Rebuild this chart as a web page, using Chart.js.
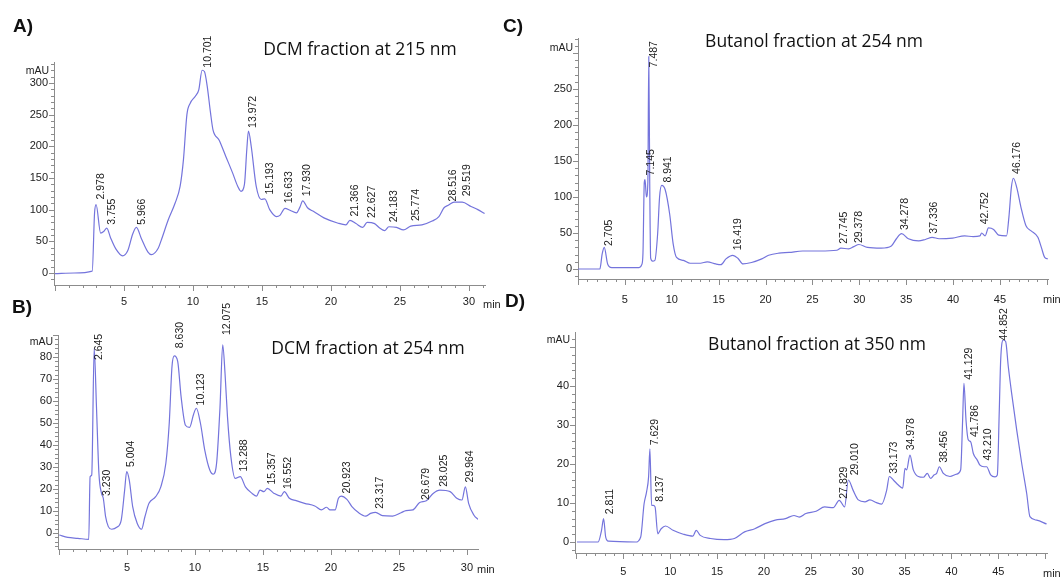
<!DOCTYPE html>
<html>
<head>
<meta charset="utf-8">
<script src="https://cdn.jsdelivr.net/npm/chart.js@4.4.0/dist/chart.umd.min.js"></script>
<style>
  html, body { margin: 0; padding: 0; background: #fff; }
  #wrap { position: relative; width: 1063px; height: 578px; overflow: hidden; }
  canvas { position: absolute; left: 0; top: 0; }
  .title { position: absolute; font: 17.5px "Open Sans", sans-serif; color: #111; transform: translate(-50%, -50%); white-space: nowrap; }
  .tag { position: absolute; font: bold 19px "Liberation Sans", Arial, sans-serif; color: #111; transform: translateY(-50%); }
</style>
</head>
<body>
<div id="wrap">
  <canvas id="chartA" width="1063" height="578"></canvas>
  <canvas id="chartB" width="1063" height="578"></canvas>
  <canvas id="chartC" width="1063" height="578"></canvas>
  <canvas id="chartD" width="1063" height="578"></canvas>
  <div class="tag" style="left:13px;top:26px">A)</div>
  <div class="tag" style="left:12px;top:307px">B)</div>
  <div class="tag" style="left:503px;top:26px">C)</div>
  <div class="tag" style="left:505px;top:301px">D)</div>
  <div class="title" style="left:360px;top:48px">DCM fraction at 215 nm</div>
  <div class="title" style="left:368px;top:347px">DCM fraction at 254 nm</div>
  <div class="title" style="left:814px;top:40px">Butanol fraction at 254 nm</div>
  <div class="title" style="left:817px;top:343px">Butanol fraction at 350 nm</div>
</div>
<script>
// A) DCM fraction at 215 nm
const timeA = [0, 1.4, 2.7, 2.87, 2.98, 3.31, 3.55, 3.75, 4.04, 4.41, 4.9, 5.27, 5.64, 5.9, 6.25, 6.74, 6.99, 7.48, 7.72, 8.21, 8.7, 9.07, 9.31, 9.56, 9.8, 10.17, 10.42, 10.66, 10.83, 11.03, 11.27, 11.45, 11.89, 12.38, 12.87, 13.24, 13.48, 13.73, 13.9, 14.02, 14.22, 14.58, 14.95, 15.2, 15.56, 16.05, 16.3, 16.67, 17.03, 17.5, 17.75, 17.95, 18.3, 18.75, 19.49, 20.47, 21.08, 21.37, 21.81, 22.3, 22.62, 23.16, 23.53, 23.9, 24.19, 24.75, 25.25, 25.78, 26.59, 27.33, 27.82, 28.19, 28.5, 28.92, 29.51, 30.15, 30.64, 31.13];
const valueA = [-1, 0, 3, 95, 108, 63, 66, 71, 55, 38, 27, 35, 62, 72, 55, 33, 29, 39, 53, 84, 110, 137, 179, 250, 268, 279, 289, 320, 318, 295, 253, 226, 210, 184, 158, 137, 129, 140, 195, 224, 200, 137, 116, 117, 100, 89, 91, 102, 99, 95, 104, 114, 103, 97, 87, 79, 76, 83, 78, 72, 80, 78, 71, 67, 73, 72, 68, 74, 76, 82, 89, 103, 107, 112, 112, 105, 100, 94];
const peakTimeA = [2.978, 3.755, 5.966, 10.701, 13.972, 15.193, 16.633, 17.930, 21.366, 22.627, 24.183, 25.774, 28.516, 29.519];
const peakHeightA = [116, 76, 76, 324, 229, 124, 110, 121, 89, 87, 80, 82, 113, 121];

// B) DCM fraction at 254 nm
const timeB = [0.02, 0.65, 1.39, 2.19, 2.29, 2.41, 2.59, 2.76, 2.94, 3.13, 3.26, 3.43, 3.63, 3.88, 4.25, 4.58, 4.83, 4.98, 5.17, 5.42, 5.75, 6.07, 6.32, 6.62, 7.11, 7.49, 7.86, 8.11, 8.31, 8.48, 8.73, 8.98, 9.3, 9.6, 9.9, 10.1, 10.4, 10.72, 11.09, 11.34, 11.59, 11.84, 12.04, 12.21, 12.39, 12.64, 12.96, 13.33, 13.71, 14.2, 14.53, 14.78, 15.07, 15.32, 15.82, 16.32, 16.57, 16.94, 17.44, 18.06, 18.81, 19.3, 19.68, 19.93, 20.3, 20.55, 20.75, 21.17, 21.54, 22.04, 22.54, 22.91, 23.28, 23.78, 24.53, 25.15, 25.52, 26.02, 26.52, 27.01, 27.51, 28.01, 28.76, 29.25, 29.63, 29.88, 30.12, 30.5, 30.87];
const valueB = [-0.9, -2, -2.4, -2.9, 25.6, 26.4, 84, 57, 27, 18, 15.8, 7.4, 2.9, 1.7, 2.6, 5.9, 19.5, 27.9, 24, 12, 4.4, 1.7, 7.4, 13.5, 16.5, 21, 31.7, 50, 75.6, 80.5, 78, 62, 49, 48, 54, 56.7, 50, 37.7, 28.6, 26.7, 31.7, 57, 85.5, 72.6, 52.9, 34.7, 24.8, 25.6, 21, 18, 16.8, 19.5, 18.8, 20.3, 18, 16.8, 18.8, 15.8, 14.7, 13.5, 12.3, 10.5, 11.7, 10.5, 10.5, 15.8, 16.8, 15.3, 12, 9.2, 7.7, 8.9, 9.4, 7.9, 7.7, 9.2, 10.2, 10.5, 13.9, 14.7, 18, 19.5, 18.8, 15.8, 15, 21, 13.5, 8.2, 5.9];
const peakTimeB = [2.645, 3.230, 5.004, 8.630, 10.123, 12.075, 13.288, 15.357, 16.552, 20.923, 23.317, 26.679, 28.025, 29.964];
const peakHeightB = [78.6, 16.8, 30, 84, 58, 90, 28, 22, 20, 18, 11, 15, 21, 23];

// C) Butanol fraction at 254 nm
const timeC = [0, 2.33, 2.58, 2.8, 3.16, 3.6, 6.51, 6.8, 6.93, 7.07, 7.15, 7.3, 7.45, 7.55, 7.65, 7.75, 7.95, 8.2, 8.5, 8.7, 8.93, 9.3, 9.78, 10.15, 10.51, 11.24, 11.96, 13.05, 13.78, 14.69, 15.24, 15.78, 16.51, 17.05, 17.6, 18.51, 19.6, 20.33, 21.42, 22.51, 23.96, 25.78, 27.6, 28.04, 28.87, 29.42, 29.96, 30.87, 32.33, 33.42, 33.96, 34.51, 35.24, 36.33, 37.05, 37.78, 38.51, 39.96, 41.24, 42.15, 42.87, 43.05, 43.42, 43.78, 44.33, 44.87, 45.71, 45.96, 46.22, 46.44, 46.8, 47.24, 47.78, 48.33, 49.05, 49.42, 49.78, 50.1];
const valueC = [0, 0, 21, 30, 7, 2, 2, 6, 22, 120, 124, 100, 120, 295, 120, 15, 11, 12, 50, 100, 116, 110, 76, 35, 16, 12, 8, 8, 10, 7, 6, 14, 19, 15, 7, 9, 14, 19, 22, 23, 25, 25, 26, 29, 28, 31, 34, 30, 29, 32, 42, 49, 42, 39, 41, 44, 42, 43, 46, 45, 46, 50, 46, 57, 55, 47, 46, 72, 113, 126, 113, 86, 60, 53, 44, 30, 16, 14];
const peakTimeC = [2.705, 7.145, 7.487, 8.941, 16.419, 27.745, 29.378, 34.278, 37.336, 42.752, 46.176];
const peakHeightC = [32, 130, 280, 120, 26, 35, 36, 54, 49, 62, 132];

// D) Butanol fraction at 350 nm
const timeD = [0.05, 2.31, 2.67, 2.89, 3.11, 3.4, 6.3, 6.85, 7.21, 7.47, 7.69, 7.83, 8.01, 8.19, 8.38, 8.67, 9.03, 9.5, 10.3, 11.39, 12.41, 12.77, 13.2, 14.3, 15.75, 16.84, 17.93, 19.02, 20.11, 21.2, 22.29, 23.2, 23.75, 24.47, 25.56, 26.47, 27.38, 28.03, 28.6, 29.0, 29.5, 30.06, 30.77, 31.3, 32.0, 32.55, 33.09, 33.37, 33.8, 34.33, 34.8, 35.04, 35.22, 35.57, 35.93, 36.46, 37.0, 37.42, 37.78, 38.13, 38.42, 38.7, 39.13, 39.84, 40.55, 40.98, 41.19, 41.33, 41.55, 41.79, 42.05, 42.33, 42.75, 43.04, 43.47, 43.75, 44.18, 44.64, 44.89, 45.1, 45.25, 45.53, 45.78, 46.06, 46.42, 46.96, 47.49, 48.02, 48.37, 49.09, 50.15];
const valueD = [0, 0, 3, 6, 1.3, 0.2, 0, 1.3, 9.8, 12.8, 16.7, 23.9, 9.4, 9.4, 9, 2.1, 3.4, 4.1, 3, 2, 1.5, 3, 1.7, 0.9, 0.6, 0.9, 2.6, 3.4, 4.7, 5.6, 6, 6.8, 6.4, 7.3, 7.9, 9, 8.8, 10.7, 9, 15.9, 13.3, 10.8, 10.3, 10.8, 10.1, 9.7, 13.3, 16.8, 15.9, 14.6, 13.8, 18.9, 18.5, 22.3, 18.5, 16.8, 16.6, 17.6, 16.3, 17.2, 17.6, 19.3, 17.6, 16.8, 17.4, 18.5, 31.3, 40.7, 31.3, 26.2, 25.7, 22.7, 21, 19.7, 19.3, 19.3, 17.2, 16.7, 17.2, 33.8, 46.7, 51.8, 51.4, 45, 38.1, 28.7, 20.2, 12.5, 6.5, 5.6, 4.6];
const peakTimeD = [2.811, 7.629, 8.137, 27.829, 29.010, 33.173, 34.978, 38.456, 41.129, 41.786, 43.210, 44.852];
const peakHeightD = [7.1, 24.8, 10.3, 11.1, 17.1, 17.5, 23.5, 20.3, 41.6, 26.9, 20.9, 51.7];

// tick labels
const xTicksShort = [5, 10, 15, 20, 25, 30];
const xTicksLong = [5, 10, 15, 20, 25, 30, 35, 40, 45];
const yTicksA = [0, 50, 100, 150, 200, 250, 300];
const yTicksB = [0, 10, 20, 30, 40, 50, 60, 70, 80];
const yTicksC = [0, 50, 100, 150, 200, 250];
const yTicksD = [0, 10, 20, 30, 40];

const TRACE = '#7474dc';
const AXIS = '#8c8c8c';
const TEXT = '#222';
const FONT = '"Liberation Sans", Arial, sans-serif';
const YW = 40, XH = 25;

const chromPlugin = {
  id: 'chrom',
  afterDraw(chart) {
    const p = chart.options.plugins.chrom;
    const { ctx, chartArea: a } = chart;
    const x = chart.scales.x, y = chart.scales.y;
    ctx.save();
    // minor / major tick marks
    ctx.strokeStyle = AXIS;
    ctx.lineWidth = 1;
    ctx.beginPath();
    for (let t = Math.ceil(x.min); t <= x.max; t++) {
      const px = Math.round(x.getPixelForValue(t)) + 0.5;
      const len = t % 5 === 0 ? 6 : 3;
      ctx.moveTo(px, a.bottom);
      ctx.lineTo(px, a.bottom + len);
    }
    for (let v = Math.ceil(y.min / p.yMinor) * p.yMinor; v <= y.max; v += p.yMinor) {
      const py = Math.round(y.getPixelForValue(v)) + 0.5;
      const len = Math.abs(v % p.yMajor) < 1e-6 ? 5 : 3;
      ctx.moveTo(a.left, py);
      ctx.lineTo(a.left - len, py);
    }
    ctx.stroke();

    ctx.fillStyle = TEXT;
    ctx.font = '10.5px ' + FONT;
    ctx.textBaseline = 'middle';
    ctx.textAlign = 'right';
    ctx.fillText('mAU', a.left - 5, a.top + p.mauDy);
    ctx.textAlign = 'left';
    ctx.font = '11px ' + FONT;
    ctx.fillText('min', a.right + p.minDx, a.bottom + p.minDy);

    // peak retention-time labels
    ctx.font = '10.5px ' + FONT;
    ctx.fillStyle = '#1a1a1a';
    p.times.forEach((t, i) => {
      const px = x.getPixelForValue(t) + p.labelDx;
      const py = y.getPixelForValue(p.heights[i]);
      ctx.save();
      ctx.translate(px, py);
      ctx.rotate(-Math.PI / 2);
      ctx.textAlign = 'left';
      ctx.textBaseline = 'middle';
      ctx.fillText(t.toFixed(3), 0, 0);
      ctx.restore();
    });
    ctx.restore();
  }
};

function drawPanel(id, cfg) {
  const pts = cfg.time.map((t, i) => ({ x: t, y: cfg.value[i] }));
  const [left, top, right, bottom] = cfg.box;
  return new Chart(document.getElementById(id), {
    type: 'line',
    data: {
      datasets: [{
        data: pts,
        borderColor: TRACE,
        borderWidth: 1.2,
        pointRadius: 0,
        fill: false,
        cubicInterpolationMode: 'monotone'
      }]
    },
    options: {
      responsive: false,
      animation: false,
      events: [],
      layout: { padding: { left: left - YW, top: top, right: 1063 - right, bottom: 578 - bottom - XH } },
      plugins: {
        legend: { display: false },
        tooltip: { enabled: false },
        chrom: {
          times: cfg.peakTime, heights: cfg.peakHeight, labelDx: cfg.labelDx,
          yMinor: cfg.yMinor, yMajor: cfg.yMajor,
          mauDy: cfg.mauDy, minDx: cfg.minDx, minDy: cfg.minDy
        }
      },
      scales: {
        x: {
          type: 'linear',
          min: cfg.xRange[0], max: cfg.xRange[1],
          afterFit: s => { s.height = XH; },
          afterBuildTicks: s => { s.ticks = cfg.xTicks.map(v => ({ value: v })); },
          grid: { drawOnChartArea: false, drawTicks: true, tickLength: cfg.xGap, color: 'rgba(0,0,0,0)' },
          border: { display: true, color: AXIS, width: 1 },
          ticks: { padding: 2, color: TEXT, font: { family: FONT, size: 11 }, maxRotation: 0, autoSkip: false, callback: v => String(v) }
        },
        y: {
          type: 'linear',
          min: cfg.yRange[0], max: cfg.yRange[1],
          afterFit: s => { s.width = YW; },
          afterBuildTicks: s => { s.ticks = cfg.yTicks.map(v => ({ value: v })); },
          grid: { drawOnChartArea: false, drawTicks: true, tickLength: 4, color: 'rgba(0,0,0,0)' },
          border: { display: true, color: AXIS, width: 1 },
          ticks: { padding: 2, color: TEXT, font: { family: FONT, size: 11 }, autoSkip: false, callback: v => String(v) }
        }
      }
    },
    plugins: [chromPlugin]
  });
}

drawPanel('chartA', {
  time: timeA, value: valueA, peakTime: peakTimeA, peakHeight: peakHeightA,
  box: [54, 62, 485, 285], xRange: [-0.07, 31.16], yRange: [-18.9, 333],
  xTicks: xTicksShort, yTicks: yTicksA, yMinor: 10, yMajor: 50,
  labelDx: 5, xGap: 8, mauDy: 9, minDx: -2, minDy: 20
});
drawPanel('chartB', {
  time: timeB, value: valueB, peakTime: peakTimeB, peakHeight: peakHeightB,
  box: [58, 335, 478, 549], xRange: [-0.07, 30.81], yRange: [-7.27, 90],
  xTicks: xTicksShort, yTicks: yTicksB, yMinor: 2, yMajor: 10,
  labelDx: 4, xGap: 10, mauDy: 7, minDx: -1, minDy: 21
});
drawPanel('chartC', {
  time: timeC, value: valueC, peakTime: peakTimeC, peakHeight: peakHeightC,
  box: [578, 38, 1048, 279], xRange: [0, 50.13], yRange: [-13.9, 320.8],
  xTicks: xTicksLong, yTicks: yTicksC, yMinor: 10, yMajor: 50,
  labelDx: 6, xGap: 12, mauDy: 10, minDx: -5, minDy: 21
});
drawPanel('chartD', {
  time: timeD, value: valueD, peakTime: peakTimeD, peakHeight: peakHeightD,
  box: [575, 332, 1047, 553], xRange: [-0.16, 50.19], yRange: [-2.82, 53.85],
  xTicks: xTicksLong, yTicks: yTicksD, yMinor: 2, yMajor: 10,
  labelDx: 7, xGap: 10, mauDy: 8, minDx: -4, minDy: 21
});
</script>
</body>
</html>
